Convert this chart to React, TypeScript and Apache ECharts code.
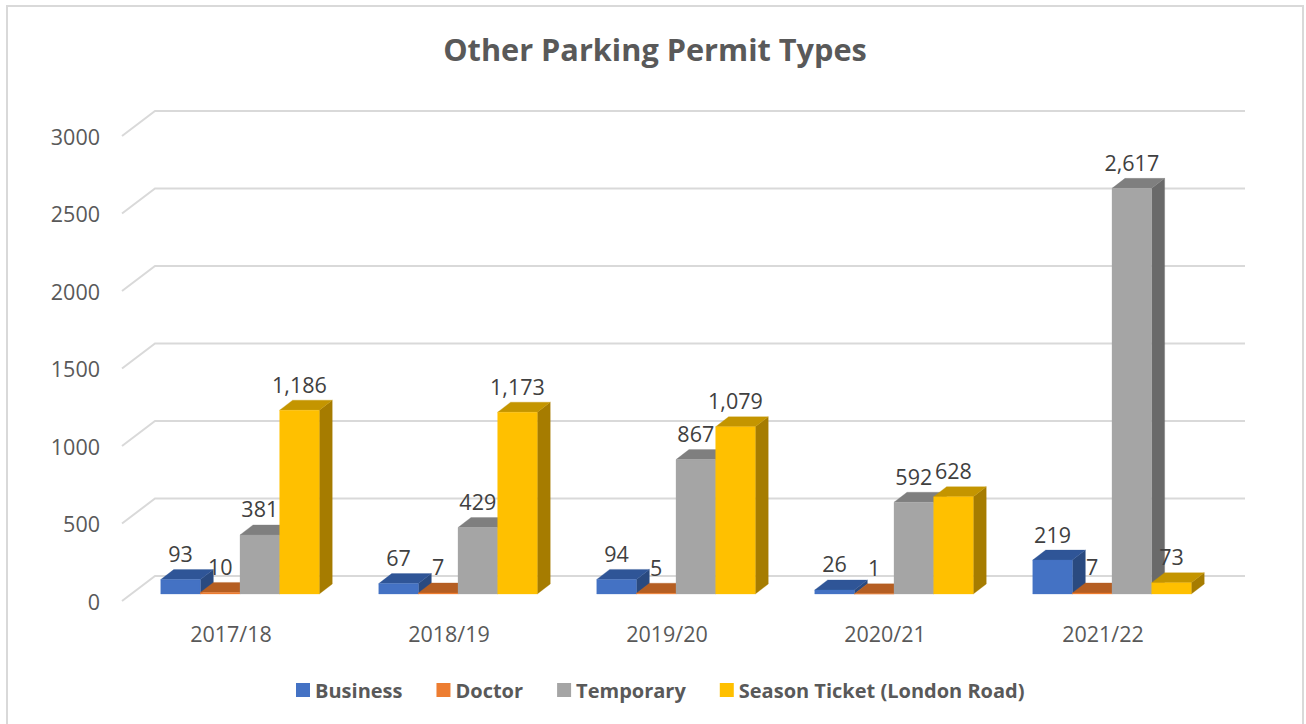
import React, { useEffect, useRef } from "react";
import * as echarts from "echarts";

const categories = ["2017/18", "2018/19", "2019/20", "2020/21", "2021/22"];
const business = [93, 67, 94, 26, 219];
const doctor = [10, 7, 5, 1, 7];
const temporary = [381, 429, 867, 592, 2617];
const seasonTicket = [1186, 1173, 1079, 628, 73];
const yTicks = [0, 500, 1000, 1500, 2000, 2500, 3000];
const seriesNames = ["Business", "Doctor", "Temporary", "Season Ticket (London Road)"];

const FONT = "'Open Sans', sans-serif";
const DEPTH_X = 13;
const DEPTH_Y = 10;
const PLANE_X = 9;
const PLANE_Y = 7;
const WALL_X = 33;
const WALL_Y = 25;

const palette = [
  { front: "#4472C4", top: "#2F5597", side: "#2A4A80" },
  { front: "#ED7D31", top: "#B55E22", side: "#A0541E" },
  { front: "#A5A5A5", top: "#7F7F7F", side: "#6A6A6A" },
  { front: "#FFC000", top: "#C49500", side: "#A67C00" },
];

function barRenderer(seriesIndex: number) {
  return (_params: any, api: any) => {
    const cat = api.value(0);
    const val = api.value(1);
    const base = api.coord([cat, 0]);
    const tip = api.coord([cat, val]);
    const w = api.size([1, 0])[0] / 5.5;
    const x0 = base[0] + PLANE_X - 2 * w + seriesIndex * w;
    const x1 = x0 + w;
    const yb = base[1] - PLANE_Y;
    const yt = tip[1] - PLANE_Y;
    const c = palette[seriesIndex];
    const poly = (points: number[][], fill: string) => ({
      type: "polygon",
      shape: { points },
      style: { fill, stroke: fill, lineWidth: 0.3 },
    });
    return {
      type: "group",
      children: [
        poly([[x1, yb], [x1 + DEPTH_X, yb - DEPTH_Y], [x1 + DEPTH_X, yt - DEPTH_Y], [x1, yt]], c.side),
        poly([[x0, yt], [x0 + DEPTH_X, yt - DEPTH_Y], [x1 + DEPTH_X, yt - DEPTH_Y], [x1, yt]], c.top),
        poly([[x0, yb], [x1, yb], [x1, yt], [x0, yt]], c.front),
        {
          type: "text",
          z2: 100,
          style: {
            text: Number(val).toLocaleString("en-US"),
            x: (x0 + x1) / 2,
            y: yt - 26,
            align: "center",
            verticalAlign: "middle",
            fill: "#404040",
            font: `21.5px ${FONT}`,
          },
        },
      ],
    };
  };
}

function wallRenderer(params: any, api: any) {
  const y = api.coord([0, api.value(1)])[1];
  const left = params.coordSys.x;
  const right = left + params.coordSys.width;
  return {
    type: "polyline",
    shape: { points: [[left, y], [left + WALL_X, y - WALL_Y], [right + WALL_X, y - WALL_Y]] },
    style: { fill: "none", stroke: "#D9D9D9", lineWidth: 2 },
  };
}

export default function App() {
  const ref = useRef<HTMLDivElement>(null);
  useEffect(() => {
    document.body.style.margin = "0";
    const chart = echarts.init(ref.current!, undefined, { renderer: "svg" });
    const values = [business, doctor, temporary, seasonTicket];
    chart.setOption({
      animation: false,
      backgroundColor: "#FFFFFF",
      title: {
        text: "Other Parking Permit Types",
        left: 650,
        top: 44,
        textAlign: "center",
        textVerticalAlign: "middle",
        textStyle: { color: "#595959", fontSize: 30.7, fontWeight: "bold", fontFamily: FONT },
      },
      legend: {
        data: seriesNames,
        left: 291,
        top: 675,
        icon: "rect",
        itemWidth: 14,
        itemHeight: 14,
        itemGap: 34,
        textStyle: { color: "#595959", fontSize: 20, fontWeight: "bold", fontFamily: FONT },
      },
      graphic: [
        {
          type: "rect",
          shape: { x: 7, y: 6, width: 1296, height: 740 },
          style: { fill: "none", stroke: "#D9D9D9", lineWidth: 2 },
          silent: true,
        },
      ],
      grid: { left: 122, top: 136, width: 1090, height: 465 },
      xAxis: {
        type: "category",
        data: categories,
        axisLine: { show: false },
        axisTick: { show: false },
        axisLabel: { margin: 21, color: "#595959", fontSize: 21.5, fontFamily: FONT },
      },
      yAxis: {
        type: "value",
        min: 0,
        max: 3000,
        interval: 500,
        axisLine: { show: false },
        axisTick: { show: false },
        splitLine: { show: false },
        axisLabel: {
          margin: 22,
          color: "#595959",
          fontSize: 21.5,
          fontFamily: FONT,
          formatter: (v: number) => String(v),
        },
      },
      series: [
        {
          type: "custom",
          name: "wall",
          silent: true,
          clip: false,
          renderItem: wallRenderer,
          encode: { x: 0, y: 1 },
          data: yTicks.map((t) => [0, t]),
        },
        ...seriesNames.map((name, i) => ({
          type: "custom",
          name,
          clip: false,
          itemStyle: { color: palette[i].front },
          renderItem: barRenderer(i),
          encode: { x: 0, y: 1 },
          data: values[i].map((v, c) => [c, v]),
        })),
      ],
    });
    return () => chart.dispose();
  }, []);
  return <div ref={ref} style={{ width: 1306, height: 724 }} />;
}
